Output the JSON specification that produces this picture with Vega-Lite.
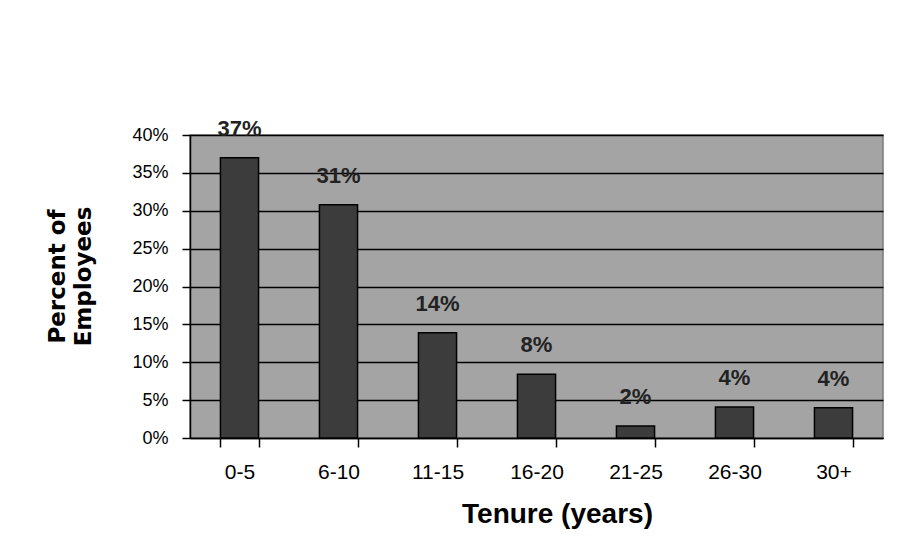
{
  "$schema": "https://vega.github.io/schema/vega-lite/v6.json",
  "width": 693,
  "height": 303,
  "autosize": "none",
  "padding": {"left": 190, "top": 135, "right": 40, "bottom": 122},
  "background": "white",
  "data": {
    "values": [
      {"tenure": "0-5", "pct": 0.37},
      {"tenure": "6-10", "pct": 0.308},
      {"tenure": "11-15", "pct": 0.139},
      {"tenure": "16-20", "pct": 0.084},
      {"tenure": "21-25", "pct": 0.016},
      {"tenure": "26-30", "pct": 0.041},
      {"tenure": "30+", "pct": 0.04}
    ]
  },
  "encoding": {
    "x": {
      "field": "tenure",
      "type": "nominal",
      "sort": null,
      "scale": {"paddingInner": 0.615, "paddingOuter": 0.3075},
      "axis": {
        "title": "Tenure (years)",
        "labelAngle": 0,
        "tickBand": "extent",
        "tickSize": 9,
        "tickColor": "black",
        "tickWidth": 1.5,
        "domainColor": "black",
        "domainWidth": 1.5,
        "labelPadding": 14,
        "labelFont": "Liberation Sans, Arial",
        "labelFontSize": 21,
        "labelColor": "black",
        "titleFont": "Liberation Sans, Arial",
        "titleFontSize": 28,
        "titleFontWeight": "bold",
        "titleColor": "black",
        "titlePadding": 18,
        "titleX": 367
      }
    },
    "y": {
      "field": "pct",
      "type": "quantitative",
      "scale": {"domain": [0, 0.4], "nice": false},
      "axis": {
        "title": ["Percent of", "Employees"],
        "format": ".0%",
        "values": [0, 0.05, 0.1, 0.15, 0.2, 0.25, 0.3, 0.35, 0.4],
        "grid": true,
        "gridColor": "black",
        "gridOpacity": 1,
        "gridWidth": 1.5,
        "tickSize": 8,
        "tickColor": "black",
        "tickWidth": 1.5,
        "domainColor": "black",
        "domainWidth": 1.5,
        "labelPadding": 14,
        "labelFont": "Liberation Sans, Arial",
        "labelFontSize": 18,
        "labelColor": "black",
        "titleFont": "DejaVu Sans, Verdana",
        "titleFontSize": 23,
        "titleFontWeight": "bold",
        "titleColor": "black",
        "titlePadding": 36,
        "titleLineHeight": 26,
        "titleY": 141
      }
    }
  },
  "layer": [
    {
      "mark": {"type": "bar", "color": "#3c3c3c", "stroke": "black", "strokeWidth": 1.5}
    },
    {
      "mark": {
        "type": "text",
        "baseline": "alphabetic",
        "dy": -22,
        "font": "Liberation Sans, Arial",
        "fontSize": 22,
        "fontWeight": "bold",
        "color": "#222222"
      },
      "encoding": {"text": {"field": "pct", "type": "quantitative", "format": ".0%"}}
    }
  ],
  "config": {
    "view": {"fill": "#a4a4a4", "stroke": "#7a7a7a", "strokeWidth": 1.5}
  }
}
